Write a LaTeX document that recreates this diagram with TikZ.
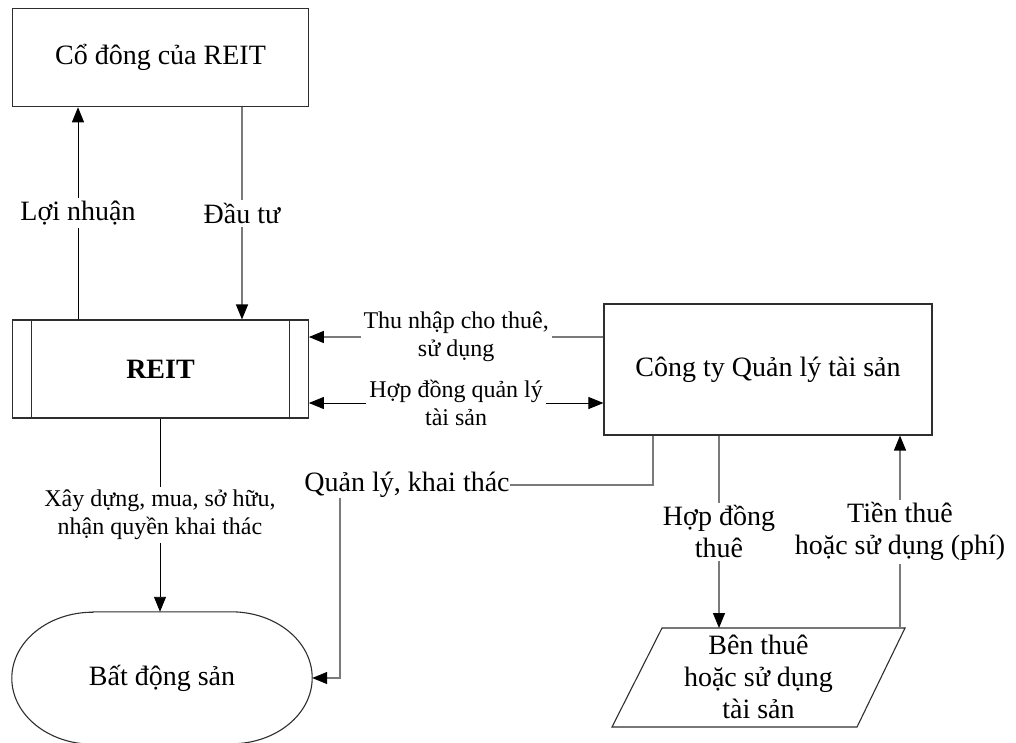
\documentclass[tikz,border=0pt]{standalone}
\usepackage{fontspec}
\setmainfont{Liberation Serif}
\usetikzlibrary{arrows.meta,calc}
\definecolor{edge}{HTML}{2E2E2E}
\definecolor{wire}{HTML}{7A7A7A}
\begin{document}
\begin{tikzpicture}[x=1pt,y=-1pt,
  big/.style={font=\fontsize{28}{32}\selectfont},
  small/.style={font=\fontsize{24}{28}\selectfont},
  boxnode/.style={draw=edge,line width=1.1pt,inner sep=0pt,big},
  shapetext/.style={inner sep=0pt,big},
  lbl/.style={fill=white,inner sep=3pt,align=center},
  conn/.style={draw=black,line width=0.9pt},
  connG/.style={draw=wire,line width=1.3pt},
  tip/.style={-{Triangle[length=15pt,width=12pt,color=black]}},
  tips/.style={{Triangle[length=15pt,width=12pt,color=black]}-{Triangle[length=15pt,width=12pt,color=black]}}
]
\useasboundingbox (0,0) rectangle (1016,742);

% boxes
\node[boxnode,minimum width=295.6pt,minimum height=98.4pt] (sh) at (160.5,57.5) {Cổ đông của REIT};
\node[boxnode,minimum width=295.6pt,minimum height=98pt,font=\fontsize{28}{32}\selectfont\bfseries] (reit) at (160.5,369) {REIT};
\draw[edge,line width=1.1pt] ($(reit.north west)+(19.6,0)$) -- ($(reit.south west)+(19.6,0)$);
\draw[edge,line width=1.1pt] ($(reit.north east)+(-19.6,0)$) -- ($(reit.south east)+(-19.6,0)$);
\node[boxnode,minimum width=328pt,minimum height=131pt] (mgr) at (768,369.5) {Công ty Quản lý tài sản};

% terminal shape for the property
\node[shapetext,minimum width=300pt,minimum height=132pt] (re) at (162,678) {Bất động sản};
\draw[edge,line width=1.1pt]
  ($(re.north west)+(81,0)$) -- ($(re.north east)+(-81,0)$)
  arc[start angle=-90,end angle=90,x radius=81,y radius=66]
  -- ($(re.south west)+(81,0)$)
  arc[start angle=90,end angle=270,x radius=81,y radius=66] -- cycle;

% parallelogram for the tenant
\coordinate (pA) at (612,727);
\coordinate (pB) at (857,727);
\coordinate (pC) at (905,628);
\coordinate (pD) at (662,628);
\draw[edge,line width=1.1pt] (pA) -- (pB) -- (pC) -- (pD) -- cycle;
\node[shapetext,align=center] (ten) at (758.5,677) {Bên thuê\\hoặc sử dụng\\tài sản};
\coordinate (tIn) at (719,628);
\coordinate (tOut) at (900,628);

% shareholders <-> REIT
\coordinate (xL) at (78,0);
\coordinate (xD) at (242,0);
\draw[conn,tip] (reit.north -| xL) -- node[lbl,big]{Lợi nhuận} (sh.south -| xL);
\draw[connG,tip] (sh.south -| xD) -- node[lbl,big]{Đầu tư} (reit.north -| xD);

% REIT <-> management company
\coordinate (yT) at (0,337);
\coordinate (yH) at (0,403);
\draw[connG,tip] (mgr.west |- yT) -- node[lbl,small]{Thu nhập cho thuê,\\sử dụng} (reit.east |- yT);
\draw[conn,tips]
  (reit.east |- yH) -- node[lbl,small]{Hợp đồng quản lý\\tài sản} (mgr.west |- yH);

% REIT -> property
\coordinate (xB) at (160,0);
\draw[conn,tip] (reit.south -| xB) -- node[lbl,small]{Xây dựng, mua, sở hữu,\\nhận quyền khai thác} (re.north -| xB);

% management company -> property
\node[inner sep=0pt,big] (ql) at (407,485) {Quản lý, khai thác};
\coordinate (xQ) at (653,0);
\coordinate (xR) at (340,0);
\draw[connG] (mgr.south -| xQ) |- (ql.east);
\draw[connG,tip] (ql.south -| xR) |- (re.east);

% management company <-> tenant
\draw[connG,tip] (mgr.south -| tIn) -- node[lbl,big]{Hợp đồng\\thuê} (tIn);
\draw[connG,tip] (tOut) -- node[lbl,big]{Tiền thuê\\hoặc sử dụng (phí)} (mgr.south -| tOut);
\end{tikzpicture}
\end{document}
